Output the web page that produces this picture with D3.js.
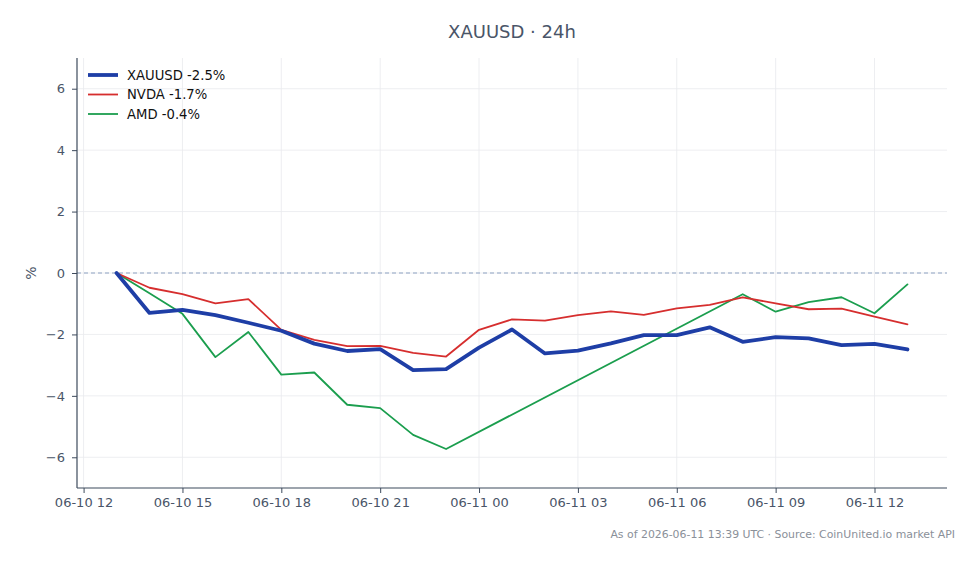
<!DOCTYPE html>
<html>
<head>
<meta charset="utf-8">
<script src="https://cdn.jsdelivr.net/npm/d3@7"></script>
<style>
  body { margin: 0; background: #fff; }
  svg { display: block; font-family: "DejaVu Sans", sans-serif; }
</style>
</head>
<body>
<div id="chart"></div>
<script>
// hourly timestamps (UTC)
const times = [
  "2026-06-10T13:00Z", "2026-06-10T14:00Z", "2026-06-10T15:00Z", "2026-06-10T16:00Z",
  "2026-06-10T17:00Z", "2026-06-10T18:00Z", "2026-06-10T19:00Z", "2026-06-10T20:00Z",
  "2026-06-10T21:00Z", "2026-06-10T22:00Z", "2026-06-10T23:00Z", "2026-06-11T00:00Z",
  "2026-06-11T01:00Z", "2026-06-11T02:00Z", "2026-06-11T03:00Z", "2026-06-11T04:00Z",
  "2026-06-11T05:00Z", "2026-06-11T06:00Z", "2026-06-11T07:00Z", "2026-06-11T08:00Z",
  "2026-06-11T09:00Z", "2026-06-11T10:00Z", "2026-06-11T11:00Z", "2026-06-11T12:00Z",
  "2026-06-11T13:00Z"
];

// % change since start
const xauusd = [0, -1.3, -1.2, -1.37, -1.62, -1.88, -2.3, -2.54, -2.48, -3.16, -3.13,
  -2.43, -1.84, -2.62, -2.53, -2.29, -2.02, -2.02, -1.77, -2.24, -2.09, -2.13, -2.35, -2.31, -2.49];
const nvda = [0, -0.48, -0.69, -0.99, -0.85, -1.85, -2.18, -2.38, -2.37, -2.6, -2.72,
  -1.85, -1.51, -1.55, -1.37, -1.25, -1.36, -1.15, -1.04, -0.79, -0.99, -1.18, -1.16, -1.42, -1.67];
// AMD has no quotes overnight (null = missing)
const amd = [0, -0.66, -1.33, -2.74, -1.92, -3.31, -3.24, -4.29, -4.4, -5.27, -5.73,
  null, null, null, null, null, null, null, null, -0.69, -1.26, -0.95, -0.79, -1.31, -0.37];

const seriesNames = ["XAUUSD -2.5%", "NVDA -1.7%", "AMD -0.4%"];
const seriesColors = ["#1e3ea6", "#d62e2e", "#1b9e4e"];
const seriesWidths = [3.8, 1.8, 1.8];
const yTicks = [-6, -4, -2, 0, 2, 4, 6];

const W = 979, H = 564;
const margin = { top: 58, right: 32, bottom: 76, left: 77 };
const iw = W - margin.left - margin.right;
const ih = H - margin.top - margin.bottom;

const svg = d3.select("#chart").append("svg")
  .attr("width", W)
  .attr("height", H);

const g = svg.append("g")
  .attr("transform", `translate(${margin.left},${margin.top})`);

const parsed = times.map(t => new Date(t));
const x = d3.scaleUtc()
  .domain([new Date("2026-06-10T11:48Z"), new Date("2026-06-11T14:12Z")])
  .range([0, iw]);
const y = d3.scaleLinear().domain([-7, 7]).range([ih, 0]);

const xTicks = d3.utcHour.every(3).range(new Date("2026-06-10T12:00Z"), new Date("2026-06-11T13:00Z"));

// grid
g.append("g").selectAll("line").data(xTicks).enter().append("line")
  .attr("x1", d => x(d)).attr("x2", d => x(d))
  .attr("y1", 0).attr("y2", ih)
  .attr("stroke", "#e8eaee").attr("stroke-width", 0.8);
g.append("g").selectAll("line").data(yTicks).enter().append("line")
  .attr("x1", 0).attr("x2", iw)
  .attr("y1", d => y(d)).attr("y2", d => y(d))
  .attr("stroke", "#e8eaee").attr("stroke-width", 0.8);

// zero line
g.append("line")
  .attr("x1", 0).attr("x2", iw)
  .attr("y1", y(0)).attr("y2", y(0))
  .attr("stroke", "#8ea2c2").attr("stroke-width", 1)
  .attr("stroke-dasharray", "4,3");

// lines
const allSeries = [xauusd, nvda, amd];
const line = d3.line()
  .x(d => x(d.t))
  .y(d => y(d.v));

// draw bottom-most first so XAUUSD sits on top
[2, 1, 0].forEach(i => {
  const pts = parsed.map((t, j) => ({ t: t, v: allSeries[i][j] }))
    .filter(d => d.v !== null);
  g.append("path")
    .attr("d", line(pts))
    .attr("fill", "none")
    .attr("stroke", seriesColors[i])
    .attr("stroke-width", seriesWidths[i])
    .attr("stroke-linejoin", "round")
    .attr("stroke-linecap", "round");
});

// axes
const axisColor = "#3d4a5c";
const textColor = "#4a5568";
const fmt = d3.utcFormat("%m-%d %H");

const xAxis = g.append("g")
  .attr("transform", `translate(0,${ih})`)
  .call(d3.axisBottom(x).tickValues(xTicks).tickFormat(fmt).tickSize(5).tickPadding(5));
const yAxis = g.append("g")
  .call(d3.axisLeft(y).tickValues(yTicks).tickFormat(d => d < 0 ? "\u2212" + Math.abs(d) : d).tickSize(5).tickPadding(7));

[xAxis, yAxis].forEach(a => {
  a.select(".domain").attr("stroke", axisColor).attr("stroke-width", 1.2);
  a.selectAll(".tick line").attr("stroke", axisColor);
  a.selectAll(".tick text").attr("fill", textColor)
    .style("font-size", "13px").style("font-family", "DejaVu Sans, sans-serif");
});
// d3 adds the outer ticks at both ends, drop them
xAxis.select(".domain").attr("d", `M0,0H${iw}`);
yAxis.select(".domain").attr("d", `M0,0V${ih}`);

// y label
svg.append("text")
  .attr("transform", `translate(36,${margin.top + y(0)}) rotate(-90)`)
  .attr("text-anchor", "middle")
  .attr("fill", textColor)
  .style("font-size", "14px")
  .text("%");

// title
svg.append("text")
  .attr("x", margin.left + iw / 2)
  .attr("y", 38)
  .attr("text-anchor", "middle")
  .attr("fill", textColor)
  .style("font-size", "18px")
  .text("XAUUSD \u00b7 24h");

// legend
const legend = g.append("g").attr("transform", "translate(11,17)");
seriesNames.forEach((name, i) => {
  const row = legend.append("g").attr("transform", `translate(0,${i * 19.5})`);
  row.append("line")
    .attr("x1", 0).attr("x2", 30)
    .attr("stroke", seriesColors[i])
    .attr("stroke-width", seriesWidths[i]);
  row.append("text")
    .attr("x", 39).attr("y", 4.5)
    .attr("fill", "#111")
    .style("font-size", "13.2px")
    .text(name);
});

// footnote
svg.append("text")
  .attr("x", 955)
  .attr("y", 538)
  .attr("text-anchor", "end")
  .attr("fill", "#8a9099")
  .style("font-size", "10.9px")
  .text("As of 2026-06-11 13:39 UTC \u00b7 Source: CoinUnited.io market API");
</script>
</body>
</html>
